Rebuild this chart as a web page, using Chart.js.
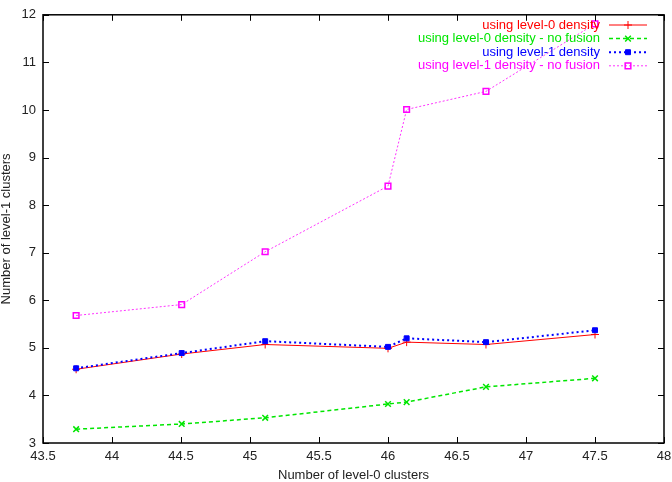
<!DOCTYPE html>
<html>
<head>
<meta charset="utf-8">
<script src="https://cdn.jsdelivr.net/npm/chart.js@4/dist/chart.umd.min.js"></script>
<style>
  html, body { margin: 0; padding: 0; background: #fff; }
</style>
</head>
<body>
<canvas id="c" width="672" height="482"></canvas>
<script>
// level-1 vs level-0 cluster counts, gnuplot-like look
const xVals          = [43.74, 44.505, 45.11, 46.0, 46.135, 46.71, 47.5];
const level0         = [4.55, 4.87, 5.07, 4.99, 5.12, 5.07, 5.28];
const level0NoFusion = [3.29, 3.40, 3.53, 3.82, 3.86, 4.18, 4.36];
const level1         = [4.57, 4.89, 5.14, 5.02, 5.20, 5.12, 5.37];
const level1NoFusion = [5.68, 5.91, 7.02, 8.40, 10.01, 10.39, 11.81];
const seriesNames = [
    'using level-0 density',
    'using level-0 density - no fusion',
    'using level-1 density',
    'using level-1 density - no fusion'
];

const FONT = '"Liberation Sans", Arial, sans-serif';
const FSIZE = 13;

function pts(ys) { return ys.map((y, i) => ({ x: xVals[i], y: y })); }

const datasets = [
    { label: seriesNames[0], data: pts(level0), borderColor: '#ff0000', backgroundColor: '#ff0000',
      borderWidth: 1, pointStyle: 'cross', pointRadius: 4, pointBorderWidth: 1, order: 4 },
    { label: seriesNames[1], data: pts(level0NoFusion), borderColor: '#00e600', backgroundColor: '#00e600',
      borderWidth: 1.5, borderDash: [4, 3], pointStyle: 'crossRot', pointRadius: 4, pointBorderWidth: 1.5, order: 3 },
    { label: seriesNames[2], data: pts(level1), borderColor: '#0000ff', backgroundColor: '#0000ff',
      borderWidth: 2, borderDash: [2, 3], pointStyle: 'rect', pointRadius: 3.5, pointBorderWidth: 1, order: 2 },
    { label: seriesNames[3], data: pts(level1NoFusion), borderColor: '#ff33ff', backgroundColor: 'rgba(0,0,0,0)',
      borderWidth: 1, borderDash: [2, 2], pointStyle: 'rect', pointRadius: 4, pointBorderWidth: 1.5,
      pointBorderColor: '#ff00ff', order: 1 }
];

// frame + inward ticks on all four sides
const framePlugin = {
    id: 'frame',
    afterDraw(chart) {
        const ctx = chart.ctx, a = chart.chartArea;
        const xs = chart.scales.x, ys = chart.scales.y;
        ctx.save();
        ctx.strokeStyle = '#000';
        ctx.lineWidth = 1;
        ctx.beginPath();
        xs.ticks.forEach(t => {
            const px = Math.round(xs.getPixelForValue(t.value)) + 0.5;
            ctx.moveTo(px, a.bottom); ctx.lineTo(px, a.bottom - 6);
            ctx.moveTo(px, a.top); ctx.lineTo(px, a.top + 6);
        });
        ys.ticks.forEach(t => {
            const py = Math.round(ys.getPixelForValue(t.value)) + 0.5;
            ctx.moveTo(a.left, py); ctx.lineTo(a.left + 6, py);
            ctx.moveTo(a.right, py); ctx.lineTo(a.right - 6, py);
        });
        ctx.stroke();
        ctx.lineWidth = 1.5;
        ctx.strokeRect(a.left, a.top, a.right - a.left, a.bottom - a.top);
        ctx.restore();
    }
};

// gnuplot style key: text right aligned, sample line to the right
const keyPlugin = {
    id: 'key',
    afterDatasetsDraw(chart) {
        const ctx = chart.ctx;
        const textRight = 600, lineL = 609, lineR = 647, top = 25, step = 13.6;
        ctx.save();
        ctx.font = FSIZE + 'px ' + FONT;
        ctx.textAlign = 'right';
        ctx.textBaseline = 'middle';
        chart.data.datasets.forEach((ds, i) => {
            const y = top + i * step;
            ctx.fillStyle = ds.pointBorderColor || ds.borderColor;
            ctx.fillText(ds.label, textRight, y);
            ctx.strokeStyle = ds.borderColor;
            ctx.lineWidth = ds.borderWidth;
            ctx.setLineDash(ds.borderDash || []);
            ctx.beginPath();
            ctx.moveTo(lineL, y); ctx.lineTo(lineR, y);
            ctx.stroke();
            ctx.setLineDash([]);
            ctx.strokeStyle = ds.pointBorderColor || ds.borderColor;
            ctx.fillStyle = ds.backgroundColor;
            ctx.lineWidth = ds.pointBorderWidth;
            Chart.helpers.drawPoint(ctx, { pointStyle: ds.pointStyle, radius: ds.pointRadius, borderWidth: ds.pointBorderWidth, rotation: 0 }, (lineL + lineR) / 2, y);
        });
        ctx.restore();
    }
};

new Chart(document.getElementById('c'), {
    type: 'line',
    data: { datasets },
    plugins: [framePlugin, keyPlugin],
    options: {
        responsive: false,
        animation: false,
        layout: { padding: { top: 13, right: 8, left: 0, bottom: 0 } },
        plugins: { legend: { display: false }, tooltip: { enabled: false } },
        scales: {
            x: {
                type: 'linear', min: 43.5, max: 48,
                ticks: { stepSize: 0.5, padding: 6, color: '#222', font: { family: FONT, size: FSIZE },
                         callback: v => String(v), maxRotation: 0 },
                grid: { display: false, drawTicks: false },
                border: { display: false },
                title: { display: true, text: 'Number of level-0 clusters', color: '#222',
                         font: { family: FONT, size: FSIZE, lineHeight: 1 }, padding: { top: 4, bottom: 0 } },
                afterFit(s) { s.height = 39; s.paddingLeft = 0; s.paddingRight = 0; }
            },
            y: {
                min: 3, max: 12,
                ticks: { stepSize: 1, padding: 7, color: '#222', font: { family: FONT, size: FSIZE } },
                grid: { display: false, drawTicks: false },
                border: { display: false },
                title: { display: true, text: 'Number of level-1 clusters', color: '#222',
                         font: { family: FONT, size: FSIZE, lineHeight: 1 }, padding: { top: 0, bottom: 4 } },
                afterFit(s) { s.width = 43; }
            }
        }
    }
});
</script>
</body>
</html>
